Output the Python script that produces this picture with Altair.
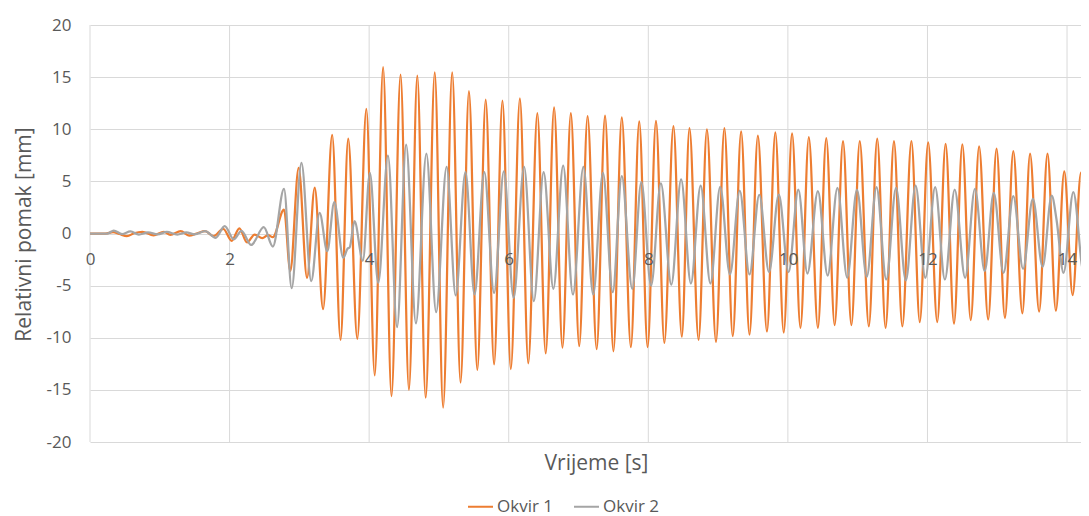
import altair as alt
import pandas as pd

# Okvir 1 (orange) - extrema
t1 = [0.00, 0.22, 0.33, 0.42, 0.53, 0.63, 0.75, 0.91, 1.06, 1.15, 1.30, 1.42, 1.53, 1.65, 1.77,
      1.91, 2.03, 2.14, 2.25, 2.36, 2.47, 2.55, 2.62, 2.78, 2.87, 2.99, 3.11, 3.22, 3.34, 3.47,
      3.59, 3.70, 3.83, 3.96, 4.08, 4.20, 4.32, 4.45, 4.57, 4.69, 4.81, 4.94, 5.06, 5.19, 5.31,
      5.43, 5.55, 5.67, 5.79, 5.91, 6.03, 6.16, 6.28, 6.41, 6.53, 6.65, 6.77, 6.89, 7.01, 7.13,
      7.26, 7.38, 7.50, 7.62, 7.75, 7.87, 7.99, 8.11, 8.23, 8.36, 8.48, 8.59, 8.72, 8.84, 8.97,
      9.09, 9.21, 9.33, 9.45, 9.57, 9.70, 9.82, 9.94, 10.06, 10.18, 10.30, 10.43, 10.55, 10.67,
      10.79, 10.91, 11.03, 11.16, 11.28, 11.40, 11.52, 11.64, 11.77, 11.89, 12.01, 12.14, 12.26,
      12.38, 12.50, 12.62, 12.74, 12.87, 12.99, 13.11, 13.23, 13.36, 13.47, 13.60, 13.72, 13.84,
      13.96, 14.08, 14.20, 14.33]
v1 = [0.00, 0.00, 0.12, -0.05, -0.26, 0.02, 0.16, -0.18, 0.16, -0.12, 0.22, -0.20, 0.00, 0.22, -0.26,
      0.45, -0.70, 0.50, -0.85, -0.10, -0.45, -0.15, -0.35, 2.30, -3.60, 6.30, -4.25, 4.40, -7.25, 9.45,
      -10.20, 9.10, -10.10, 11.95, -13.60, 15.95, -15.60, 15.25, -15.00, 15.15, -15.75, 15.45, -16.70, 15.45, -14.30,
      13.65, -13.10, 12.85, -12.55, 12.75, -13.00, 12.95, -12.45, 11.55, -11.50, 12.10, -10.95, 11.55, -10.80, 11.25,
      -11.10, 11.30, -11.30, 11.15, -10.90, 10.75, -10.90, 10.80, -10.50, 10.30, -9.90, 10.10, -10.20, 10.00, -10.40,
      10.10, -9.85, 9.80, -9.70, 9.40, -9.40, 9.70, -9.50, 9.60, -9.05, 9.25, -9.05, 9.15, -8.80,
      8.85, -8.80, 8.85, -8.90, 9.10, -9.05, 8.85, -8.90, 8.85, -8.50, 8.75, -8.50, 8.60,
      -8.65, 8.55, -8.30, 8.35, -8.25, 8.15, -8.10, 7.90, -7.65, 7.65, -7.50, 7.65, -7.40,
      5.95, -5.90, 5.85, -5.90]

# Okvir 2 (gray)
t2 = [0.00, 0.25, 0.34, 0.46, 0.58, 0.70, 0.83, 0.97, 1.10, 1.25, 1.38, 1.50, 1.65, 1.80, 1.93,
      2.06, 2.17, 2.31, 2.49, 2.62, 2.78, 2.89, 3.03, 3.17, 3.29, 3.40, 3.50, 3.63, 3.69, 3.72,
      3.79, 3.91, 4.01, 4.13, 4.27, 4.40, 4.53, 4.67, 4.82, 4.96, 5.11, 5.24, 5.38, 5.51, 5.65,
      5.79, 5.93, 6.07, 6.22, 6.36, 6.50, 6.64, 6.78, 6.92, 7.07, 7.21, 7.35, 7.49, 7.62, 7.77,
      7.90, 8.04, 8.18, 8.33, 8.47, 8.61, 8.75, 8.89, 9.03, 9.17, 9.31, 9.45, 9.59, 9.73, 9.87,
      10.01, 10.15, 10.28, 10.43, 10.57, 10.71, 10.85, 10.99, 11.13, 11.27, 11.41, 11.55, 11.69,
      11.83, 11.97, 12.11, 12.25, 12.39, 12.54, 12.68, 12.82, 12.95, 13.09, 13.23, 13.37, 13.51,
      13.65, 13.78, 13.85, 13.95, 14.09, 14.24, 14.37]
v2 = [0.00, 0.00, 0.28, -0.05, 0.20, -0.10, 0.10, -0.08, 0.15, -0.10, 0.10, -0.08, 0.22, -0.42, 0.70,
      -0.55, 0.25, -1.10, 0.60, -1.25, 4.28, -5.25, 6.78, -4.57, 1.98, -1.70, 3.00, -2.33, -1.45, -1.35,
      1.18, -2.60, 5.82, -4.73, 7.48, -8.98, 8.53, -8.63, 7.67, -7.54, 6.39, -5.94, 5.88, -5.85, 5.88,
      -5.70, 5.97, -6.17, 6.39, -6.49, 5.88, -5.30, 6.52, -5.85, 6.39, -5.85, 5.82, -5.63, 5.50, -5.30,
      4.92, -4.99, 4.80, -4.90, 5.18, -4.80, 4.60, -4.80, 4.47, -3.93, 4.12, -3.93, 3.70, -3.70, 3.74,
      -3.70, 4.20, -3.84, 4.06, -4.03, 4.38, -4.25, 4.22, -4.15, 4.44, -4.41, 4.38, -4.50,
      4.60, -4.25, 4.44, -4.41, 4.22, -4.25, 4.28, -3.61, 3.90, -3.77, 3.58, -3.39, 3.33,
      -3.20, 3.64, 1.30, -3.77, 3.96, -3.77, 4.00]

series = ["Okvir 1", "Okvir 2"]
colors = ["#ED7D31", "#A5A5A5"]
x_ticks = [0, 2, 4, 6, 8, 10, 12, 14]
y_ticks = [-20, -15, -10, -5, 0, 5, 10, 15, 20]

df = pd.concat([
    pd.DataFrame({"t": t1, "v": v1, "s": series[0]}),
    pd.DataFrame({"t": t2, "v": v2, "s": series[1]}),
], ignore_index=True)

text_color = "#595959"
grid_color = "#D9D9D9"
xscale = alt.Scale(domain=[0, 14.2], nice=False, zero=False)
yscale = alt.Scale(domain=[-20, 20], nice=False, zero=False)

x_axis = alt.Axis(
    values=x_ticks, title="Vrijeme [s]", offset=-208, domain=False, ticks=False, grid=False,
    labelPadding=17, labelFontSize=17, labelColor=text_color, labelFlush=False,
    labelExpr="datum.value + ''",
    titleX=506, titleY=229, titleFontSize=21, titleFontWeight="normal", titleColor=text_color,
    titleBaseline="middle", titleAlign="center", zindex=1)

vgrid = alt.Chart(pd.DataFrame({"t": x_ticks})).mark_rule(
    color=grid_color, strokeWidth=1
).encode(x=alt.X("t:Q", scale=xscale, axis=x_axis))

lines = alt.Chart(df).mark_line(strokeWidth=2.25, interpolate="monotone", clip=True).encode(
    x=alt.X("t:Q", scale=xscale, axis=x_axis),
    y=alt.Y("v:Q", scale=yscale, axis=alt.Axis(
        values=y_ticks, title="Relativni pomak [mm]", domain=False, ticks=False, grid=True,
        gridColor=grid_color, gridWidth=1, labelPadding=19, labelFontSize=17, labelColor=text_color,
        labelExpr="datum.value + ''",
        titleX=-66, titleY=209, titleAngle=270, titleFontSize=21, titleFontWeight="normal",
        titleColor=text_color, titleBaseline="middle", titleAlign="center")),
    color=alt.Color("s:N", scale=alt.Scale(domain=series, range=colors), legend=alt.Legend(
        title=None, orient="none", legendX=377, legendY=468, direction="horizontal",
        symbolType="stroke", symbolStrokeWidth=2, symbolSize=625, labelFontSize=17,
        labelColor=text_color, labelOffset=3, columnPadding=16, padding=0)),
    order=alt.Order("t:Q"),
)

chart = alt.layer(vgrid, lines).properties(
    width=991, height=417,
    autosize=alt.AutoSizeParams(type="none"),
    padding={"left": 82, "top": 17, "right": 0, "bottom": 74},
).configure(font="Open Sans").configure_view(stroke=None)

chart.save("out.html", embed_options={"renderer": "svg", "actions": False})
